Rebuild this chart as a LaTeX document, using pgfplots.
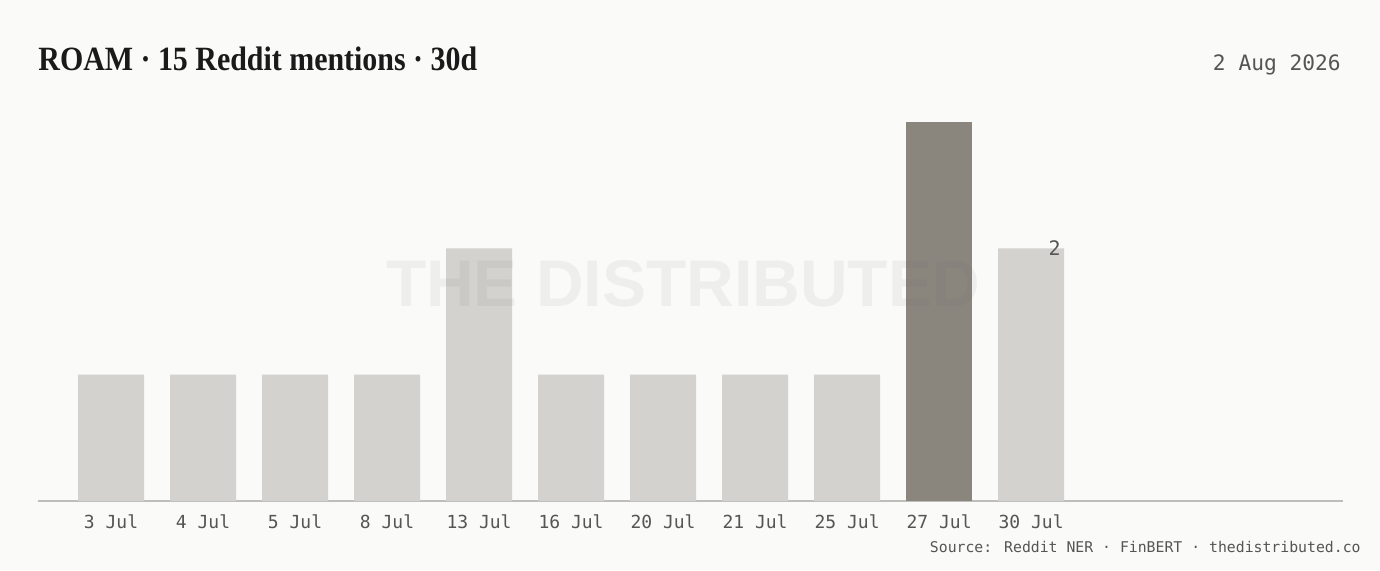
\documentclass[border=0pt]{standalone}
\usepackage{pgfplots}
\pgfplotsset{compat=1.18}
\usepackage{fontspec}
\setmainfont{Liberation Sans}
\newfontfamily\titlefont[FakeStretch=0.88]{Liberation Serif}
\newfontfamily\monofont{DejaVu Sans Mono}
\newfontfamily\markfont{Liberation Sans}

\definecolor{bgc}{HTML}{FAFAF8}
\definecolor{barlight}{HTML}{D3D2CE}
\definecolor{bardark}{HTML}{8A857D}
\definecolor{axisc}{HTML}{BDBDBB}
\definecolor{txtc}{HTML}{555555}
\definecolor{titlec}{HTML}{1A1A1A}
\definecolor{wmark}{HTML}{6B6B6B}

\begin{document}
\begin{tikzpicture}
% page 1380x570 px, 1px = 0.5pt
\fill[bgc] (0,0) rectangle (690pt,285pt);
\useasboundingbox (0,0) rectangle (690pt,285pt);

\begin{axis}[
  at={(19pt,34.5pt)}, anchor=south west,
  scale only axis, width=652.5pt, height=189.5pt,
  xmin=-0.7935, xmax=13.39, ymin=0, ymax=3,
  axis x line=bottom, axis y line=none,
  axis line style={axisc, line width=0.8pt, -},
  ybar, bar width=33pt, bar shift=0pt,
  xtick={0,...,10},
  xticklabels={3 Jul,4 Jul,5 Jul,8 Jul,13 Jul,16 Jul,20 Jul,21 Jul,25 Jul,27 Jul,30 Jul},
  major tick length=0pt,
  xticklabel style={font=\monofont\fontsize{9}{10}\selectfont, text=txtc, yshift=-3.5pt},
  ytick=\empty,
  clip=false,
]
\addplot[draw=none, fill=barlight] coordinates {(0,1) (1,1) (2,1) (3,1) (4,2) (5,1) (6,1) (7,1) (8,1) (10,2)};
\addplot[draw=none, fill=bardark] coordinates {(9,3)};
\node[anchor=east, text=txtc, font=\monofont\fontsize{10}{11}\selectfont, inner sep=0pt, xshift=15pt] at (axis cs:10,2) {2};
\end{axis}

% watermark
\node[text=wmark, opacity=0.08, font=\markfont\bfseries\fontsize{33}{36}\selectfont, inner sep=0pt] at (341.5pt,143pt) {THE DISTRIBUTED};

% title
\node[anchor=base west, inner sep=0pt, text=titlec, font=\titlefont\bfseries\fontsize{17}{20}\selectfont] at (19pt,250pt) {ROAM · 15 Reddit mentions · 30d};
% date
\node[anchor=base east, inner sep=0pt, text=txtc, font=\monofont\fontsize{10.6}{12}\selectfont] at (670.5pt,250pt) {2 Aug 2026};
% source
\node[anchor=base east, inner sep=0pt, text=txtc, font=\monofont\fontsize{7.4}{9}\selectfont] at (680.5pt,9pt) {Source: Reddit NER · FinBERT · thedistributed.co};
\end{tikzpicture}
\end{document}
